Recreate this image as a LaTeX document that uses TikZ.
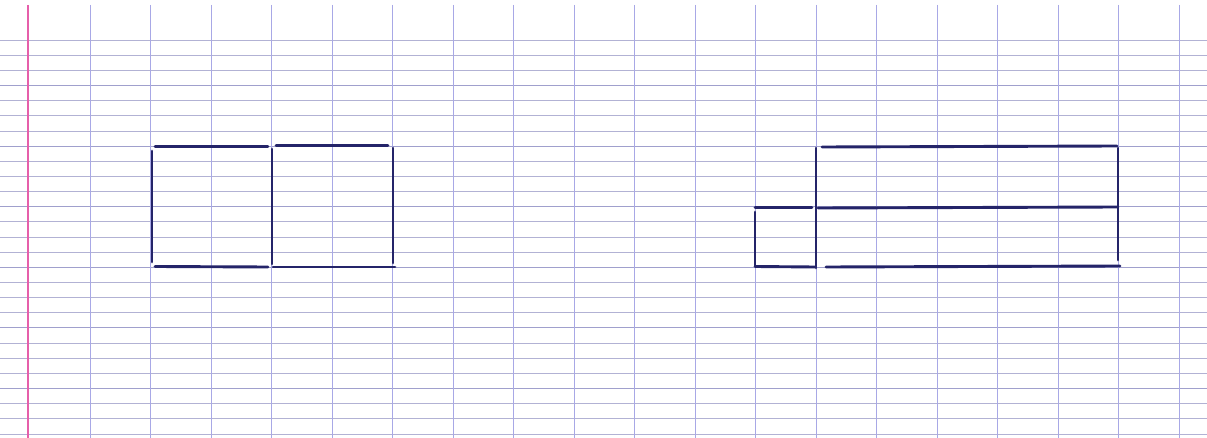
\documentclass[tikz,border=0pt]{standalone}
\usepackage{tikz}
\definecolor{gridh}{RGB}{178,178,212}
\definecolor{gridhmaj}{RGB}{160,160,205}
\definecolor{gridv}{RGB}{168,168,230}
\definecolor{pen}{RGB}{36,36,105}
\definecolor{margin}{RGB}{230,95,170}
\tikzset{
  gridline/.style={draw=gridh,line width=0.7pt},
  gridmaj/.style={draw=gridhmaj,line width=0.8pt},
  gridvert/.style={draw=gridv,line width=0.8pt},
  marginline/.style={draw=margin,line width=2.4pt},
  penline/.style={draw=pen,line width=2.9pt,line cap=round}
}
\begin{document}
\begin{tikzpicture}[x=1pt,y=-1pt]
\useasboundingbox[fill=white] (0,0) rectangle (1207,438);
% horizontal rules
\foreach \k in {0,...,26}{
  \pgfmathsetmacro{\yy}{40+15.15*\k}
  \pgfmathtruncatemacro{\m}{mod(\k,4)}
  \ifnum\m=3
    \draw[gridmaj] (0,\yy) -- (1207,\yy);
  \else
    \draw[gridline] (0,\yy) -- (1207,\yy);
  \fi
}
% vertical rules
\foreach \k in {0,...,18}{
  \pgfmathsetmacro{\xx}{90+60.5*\k}
  \draw[gridvert] (\xx,5) -- (\xx,438);
}
% margin
\draw[marginline] (28,5) -- (28,438);
% left figure
\draw[penline] (155,146.5) -- (268,146.5);
\draw[penline] (276,145.5) -- (388,145.5);
\draw[penline] (155,266.5) -- (268,267);
\draw[penline] (273,267) -- (395,267);
\draw[penline] (152,151) -- (152,262);
\draw[penline] (272,149) -- (272,264);
\draw[penline] (393,148) -- (393,263);
% right figure
\draw[penline] (822,147) -- (1117,146);
\draw[penline] (816,148) -- (816,268);
\draw[penline] (755,207.5) -- (812,207.5);
\draw[penline] (818,208) -- (1118,207);
\draw[penline] (755,266.5) -- (815,267);
\draw[penline] (826,267) -- (1120,266);
\draw[penline] (1118,148) -- (1118,260);
\draw[penline] (755,212) -- (755,266);
\end{tikzpicture}
\end{document}
